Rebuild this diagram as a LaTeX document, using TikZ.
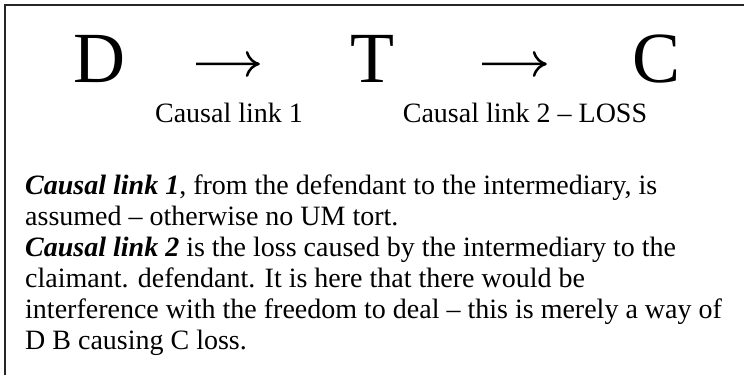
\documentclass[tikz,border=0pt]{standalone}
\usepackage{fontspec}
\setmainfont{Liberation Serif}
\usetikzlibrary{arrows.meta}
\tikzset{
  big/.style={font=\fontsize{72}{72}\selectfont, inner sep=0pt, anchor=base},
  caption/.style={font=\fontsize{28}{30}\selectfont, inner sep=0pt, anchor=base},
  body/.style={font=\fontsize{28}{31}\selectfont, inner sep=0pt, anchor=base west},
  link/.style={line width=2.5pt, -{To[length=14pt,width=26pt]}},
}
\begin{document}
\begin{tikzpicture}[x=1pt,y=-1pt]
    \useasboundingbox (0,0) rectangle (744,375);
    \draw[line width=1.5pt, black!85] (5,375) -- (5,5) -- (744,5);

    \node[big] (D) at (99,82) {D};
    \node[big] (T) at (372,82) {T};
    \node[big] (C) at (657,82) {C};
    \draw[link, shorten <=71pt, shorten >=90pt] ([yshift=-5.5pt]D.east) -- ([yshift=-5.5pt]T.west);
    \draw[link, shorten <=88pt, shorten >=86pt] ([yshift=-5.5pt]T.east) -- ([yshift=-5.5pt]C.west);

    \node[caption] (l1) at (229,122) {Causal link 1};
    \node[caption] (l2) at (525,122) {Causal link 2 – LOSS};

    \node[body] (t1) at (25,194) {\textbf{\textit{Causal link 1}}, from the defendant to the intermediary, is};
    \node[body] (t2) at (25,225) {assumed – otherwise no UM tort.};
    \node[body] (t3) at (25,256) {\textbf{\textit{Causal link 2}} is the loss caused by the intermediary to the};
    \node[body] (t4) at (25,287) {claimant. defendant. It is here that there would be};
    \node[body] (t5) at (25,318) {interference with the freedom to deal – this is merely a way of};
    \node[body] (t6) at (25,349) {D B causing C loss.};
\end{tikzpicture}
\end{document}
